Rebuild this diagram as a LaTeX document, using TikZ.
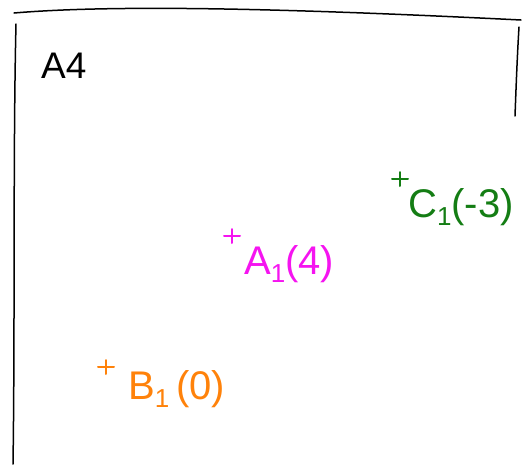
\documentclass[tikz,border=0pt]{standalone}
\usepackage{fontspec}
\setmainfont{Liberation Sans}
\definecolor{penmag}{RGB}{245,20,240}
\definecolor{pengreen}{RGB}{20,125,20}
\definecolor{penorange}{RGB}{255,130,10}
\newcommand{\sublow}[1]{\raisebox{-0.22em}{\fontsize{26}{30}\selectfont #1}}
\tikzset{
  mark cross/.style={line width=2pt},
  lbl/.style={anchor=west,inner sep=0pt}
}
\begin{document}
\begin{tikzpicture}[x=1pt,y=-1pt,line join=round,line cap=round,font=\fontsize{40}{46}\selectfont]
\useasboundingbox (0,0) rectangle (531,464);
\path
(14,13) coordinate (TL)
(521,20) coordinate (TR)
(16,24) coordinate (LT)
(13,464) coordinate (LB)
(519,27) coordinate (RT)
(515,116) coordinate (RB)
(232,236) coordinate (pA)
(106,367) coordinate (pB)
(400,179) coordinate (pC)
;
% sheet
\draw[line width=1.5pt]
(TL) .. controls (120,4) and (300,9) .. (TR)
(LT) .. controls (13,150) and (15,330) .. (LB)
(RT) .. controls (517,60) and (516,90) .. (RB)
;
\node[lbl,font=\fontsize{37}{42}\selectfont] (a4) at (41,66) {A4};
% points
\draw[mark cross,penmag] (pA) +(-8,0) -- +(8,0) (pA) +(0,-7) -- +(0,7);
\draw[mark cross,penorange] (pB) +(-8,0) -- +(8,0) (pB) +(0,-7) -- +(0,7);
\draw[mark cross,pengreen] (pC) +(-8,0) -- +(8,0) (pC) +(0,-7) -- +(0,7);
\node[lbl,penmag] (lA) at (244,264) {A\sublow{1}(4)};
\node[lbl,penorange] (lB) at (128,389) {B\sublow{1}\,(0)};
\node[lbl,pengreen] (lC) at (408,207) {C\sublow{1}(-3)};
\end{tikzpicture}
\end{document}
